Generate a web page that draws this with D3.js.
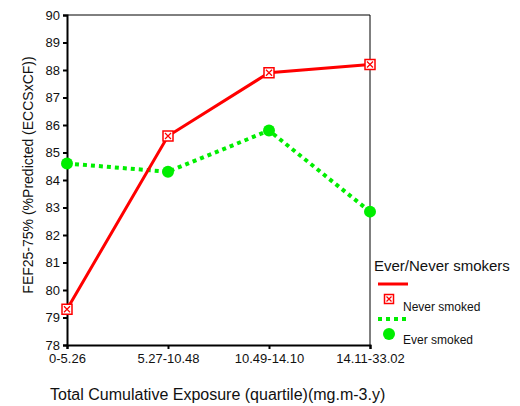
<!DOCTYPE html>
<html>
<head>
<meta charset="utf-8">
<script src="https://cdn.jsdelivr.net/npm/d3@7"></script>
<style>
  body { margin: 0; background: #fff; }
  text { font-family: Arial, "Liberation Sans", sans-serif; fill: #111; }
</style>
</head>
<body>
<div id="chart"></div>
<script>
// data
var categories = ["0-5.26", "5.27-10.48", "10.49-14.10", "14.11-33.02"];
var neverSmoked = [79.3, 85.6, 87.9, 88.2];
var everSmoked = [84.6, 84.3, 85.8, 82.85];
var yTicks = [78, 79, 80, 81, 82, 83, 84, 85, 86, 87, 88, 89, 90];

var margin = {top: 15, right: 150, bottom: 61, left: 67};
var width = 520 - margin.left - margin.right;
var height = 406 - margin.top - margin.bottom;

var svg = d3.select("#chart")
  .append("svg")
    .attr("width", 520)
    .attr("height", 406);

var g = svg.append("g")
  .attr("transform", "translate(" + margin.left + "," + margin.top + ")");

var x = d3.scalePoint()
  .domain(categories)
  .range([0, width])
  .padding(0);

var y = d3.scaleLinear()
  .domain([78, 90])
  .range([height, 0]);

// thin frame on top and right
g.append("line")
  .attr("x1", 0).attr("x2", width)
  .attr("y1", 0).attr("y2", 0)
  .attr("stroke", "#000").attr("stroke-width", 1);
g.append("line")
  .attr("x1", width).attr("x2", width)
  .attr("y1", 0).attr("y2", height)
  .attr("stroke", "#000").attr("stroke-width", 1);

var yAxis = g.append("g")
  .attr("class", "y-axis")
  .call(d3.axisLeft(y).tickValues(yTicks).tickSize(4).tickPadding(3).tickFormat(d3.format("d")));

var xAxis = g.append("g")
  .attr("class", "x-axis")
  .attr("transform", "translate(0," + height + ")")
  .call(d3.axisBottom(x).tickSize(4).tickPadding(5));

g.selectAll(".domain").attr("stroke", "#000").attr("stroke-width", 2);
g.selectAll(".tick line").attr("stroke", "#000").attr("stroke-width", 2);
g.selectAll(".tick text").attr("font-size", "13px").attr("fill", "#111")
  .attr("font-family", "Arial, 'Liberation Sans', sans-serif");

// axis titles
svg.append("text")
  .attr("transform", "translate(33," + (margin.top + 160) + ") rotate(-90)")
  .attr("text-anchor", "middle")
  .attr("font-size", "14px")
  .text("FEF25-75% (%Predicted (ECCSxCF))");

svg.append("text")
  .attr("x", 50)
  .attr("y", 400)
  .attr("font-size", "16px")
  .text("Total Cumulative Exposure (quartile)(mg.m-3.y)");

var line = d3.line()
  .x(function(d, i) { return x(categories[i]); })
  .y(function(d) { return y(d); });

// ever smoked: green dotted
g.append("path")
  .datum(everSmoked)
  .attr("fill", "none")
  .attr("stroke", "#00ee00")
  .attr("stroke-width", 4)
  .attr("stroke-dasharray", "4,4")
  .attr("d", line);

// never smoked: red solid
g.append("path")
  .datum(neverSmoked)
  .attr("fill", "none")
  .attr("stroke", "#ff0000")
  .attr("stroke-width", 3)
  .attr("d", line);

function boxMarker(sel, size) {
  var h = size / 2;
  sel.append("rect")
    .attr("x", -h).attr("y", -h)
    .attr("width", size).attr("height", size)
    .attr("fill", "#fff")
    .attr("stroke", "#ff0000")
    .attr("stroke-width", 1.5);
  sel.append("path")
    .attr("d", "M" + (-h + 2) + "," + (-h + 2) + "L" + (h - 2) + "," + (h - 2) +
               "M" + (h - 2) + "," + (-h + 2) + "L" + (-h + 2) + "," + (h - 2))
    .attr("stroke", "#ff0000")
    .attr("stroke-width", 1.2);
}

g.selectAll(".ever-pt")
  .data(everSmoked)
  .enter()
  .append("circle")
    .attr("class", "ever-pt")
    .attr("cx", function(d, i) { return x(categories[i]); })
    .attr("cy", function(d) { return y(d); })
    .attr("r", 6)
    .attr("fill", "#00ee00");

g.selectAll(".never-pt")
  .data(neverSmoked)
  .enter()
  .append("g")
    .attr("class", "never-pt")
    .attr("transform", function(d, i) { return "translate(" + x(categories[i]) + "," + y(d) + ")"; })
    .each(function() { boxMarker(d3.select(this), 10); });

// legend
var leg = svg.append("g").attr("transform", "translate(374,0)");

leg.append("text")
  .attr("x", 0).attr("y", 271)
  .attr("font-size", "15px")
  .text("Ever/Never smokers");

leg.append("line")
  .attr("x1", 4).attr("x2", 34)
  .attr("y1", 284).attr("y2", 284)
  .attr("stroke", "#ff0000").attr("stroke-width", 3);

leg.append("g")
  .attr("transform", "translate(15,299)")
  .call(function(s) { boxMarker(s, 9); });

leg.append("text")
  .attr("x", 29).attr("y", 311)
  .attr("font-size", "12px")
  .text("Never smoked");

leg.append("line")
  .attr("x1", 4).attr("x2", 36)
  .attr("y1", 319).attr("y2", 319)
  .attr("stroke", "#00ee00").attr("stroke-width", 4)
  .attr("stroke-dasharray", "4,4");

leg.append("circle")
  .attr("cx", 15).attr("cy", 334)
  .attr("r", 6)
  .attr("fill", "#00ee00");

leg.append("text")
  .attr("x", 29).attr("y", 344)
  .attr("font-size", "12px")
  .text("Ever smoked");
</script>
</body>
</html>
